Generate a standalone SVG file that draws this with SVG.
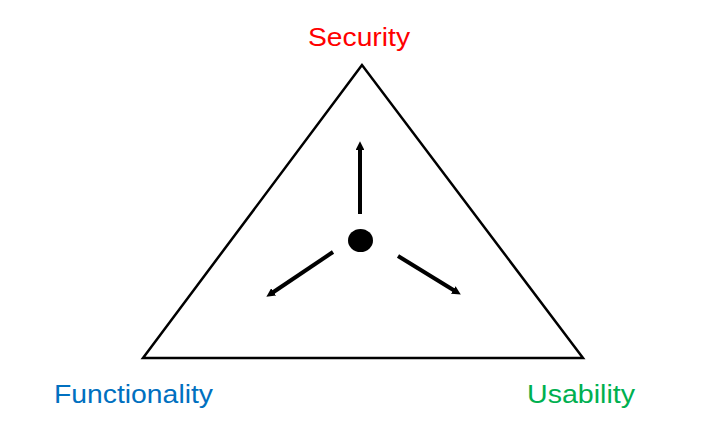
<svg xmlns="http://www.w3.org/2000/svg" width="710" height="434" viewBox="0 0 710 434">
<style>
.lbl{font-family:"Liberation Sans",Arial,sans-serif;font-size:26px}
.arr{stroke:#000;stroke-width:4;fill:none;marker-end:url(#ah)}
</style>
<defs>
<marker id="ah" markerWidth="2.2" markerHeight="2.2" refX="0.5" refY="1.1" orient="auto" markerUnits="strokeWidth">
<path d="M0,0 L2.2,1.1 L0,2.2 Z" fill="#000"/>
</marker>
</defs>
<rect width="710" height="434" fill="#fff"/>
<g id="triangle">
<polygon points="362,65 143,358 583,358" fill="none" stroke="#000" stroke-width="2.5" stroke-linejoin="miter"/>
</g>
<g id="center">
<ellipse cx="360.5" cy="240.5" rx="12.5" ry="11.5" fill="#000"/>
</g>
<g id="connectors">
<line class="arr" x1="360" y1="214" x2="360" y2="148"/>
<line class="arr" x1="333" y1="252" x2="272" y2="293"/>
<line class="arr" x1="398" y1="256" x2="455" y2="291"/>
</g>
<g id="security"><text class="lbl" x="308" y="46" fill="#FF0000" textLength="102" lengthAdjust="spacingAndGlyphs">Security</text></g>
<g id="functionality"><text class="lbl" x="54" y="403" fill="#0070C0" textLength="159" lengthAdjust="spacingAndGlyphs">Functionality</text></g>
<g id="usability"><text class="lbl" x="527" y="403" fill="#00B050" textLength="108" lengthAdjust="spacingAndGlyphs">Usability</text></g>
</svg>
